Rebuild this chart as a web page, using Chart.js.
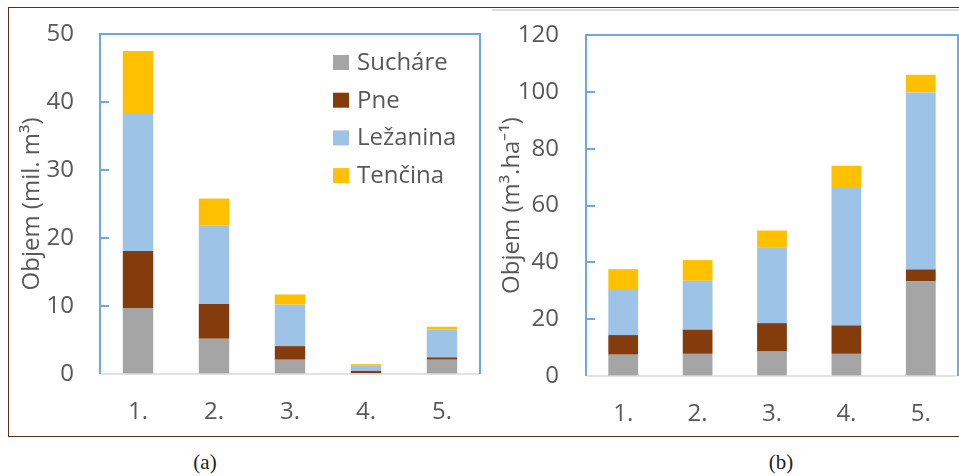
<!DOCTYPE html>
<html>
<head>
<meta charset="utf-8">
<script src="https://cdn.jsdelivr.net/npm/chart.js@4.4.1/dist/chart.umd.min.js"></script>
<style>
  html, body { margin: 0; padding: 0; background: #fff; overflow: hidden; }
  #wrap { position: relative; width: 959px; height: 476px; }
  .frame { position: absolute; left: 8px; top: 7px; width: 1000px; height: 428px; border: 1px solid #5c2c1c; }
  .topline { position: absolute; left: 492px; top: 9px; width: 470px; height: 2px; background: #dcdcdc; }
  .cap { position: absolute; top: 449px; width: 100px; text-align: center; font: 21px "Liberation Serif", serif; color: #222; line-height: 26px; }
  canvas { position: absolute; top: 0; }
</style>
</head>
<body>
<div id="wrap">
  <div class="frame"></div>
  <div class="topline"></div>
  <canvas id="chartA" width="482" height="440" style="left:0"></canvas>
  <canvas id="chartB" width="479" height="440" style="left:480px"></canvas>
  <div class="cap" style="left:155px">(a)</div>
  <div class="cap" style="left:731px">(b)</div>
</div>
<script>
// categories
const labels = ['1.', '2.', '3.', '4.', '5.'];
const seriesNames = ['Sucháre', 'Pne', 'Ležanina', 'Tenčina'];
const seriesColors = ['#A5A5A5', '#843C0C', '#9DC3E6', '#FFC000'];

// (a) volume, mil. m3
const sucharaA = [9.7, 5.2, 2.1, 0.1, 2.1];
const pneA = [8.4, 5.1, 2.0, 0.35, 0.35];
const lezaninaA = [20.3, 11.5, 6.1, 0.75, 4.1];
const tencinaA = [9.1, 4.0, 1.5, 0.25, 0.4];

// (b) volume per hectare, m3.ha-1
const sucharaB = [7.5, 7.8, 8.6, 7.8, 33.3];
const pneB = [6.9, 8.5, 10.0, 10.0, 4.2];
const lezaninaB = [16.2, 17.2, 26.5, 48.7, 62.3];
const tencinaB = [7.0, 7.3, 6.1, 7.5, 6.2];

Chart.defaults.font.family = "'Open Sans', sans-serif";
Chart.defaults.color = '#595959';

const FRAME_BLUE = '#6FA8DC';
const AXIS_GREY = '#D9D9D9';

// plot box: blue on top/left/right, grey base line, short ticks pointing inwards
const plotFrame = {
  id: 'plotFrame',
  afterDraw(chart) {
    const {ctx, chartArea: a} = chart;
    const y = chart.scales.y;
    ctx.save();
    ctx.lineWidth = 2;
    ctx.strokeStyle = FRAME_BLUE;
    ctx.beginPath();
    ctx.moveTo(a.left, a.bottom);
    ctx.lineTo(a.left, a.top);
    ctx.lineTo(a.right, a.top);
    ctx.lineTo(a.right, a.bottom);
    ctx.stroke();
    y.ticks.forEach(t => {
      if (t.value === y.min || t.value === y.max) return;
      const py = Math.round(y.getPixelForValue(t.value));
      ctx.beginPath();
      ctx.moveTo(a.left, py);
      ctx.lineTo(a.left + 9, py);
      ctx.stroke();
    });
    ctx.lineWidth = 1.5;
    ctx.strokeStyle = AXIS_GREY;
    ctx.beginPath();
    ctx.moveTo(a.left + 1, a.bottom);
    ctx.lineTo(a.right - 1, a.bottom);
    ctx.stroke();
    ctx.restore();
  }
};

// legend drawn inside the plot area (only chart a)
const innerLegend = {
  id: 'innerLegend',
  afterDraw(chart, args, opts) {
    if (!opts.show) return;
    const {ctx, chartArea: a} = chart;
    ctx.save();
    ctx.font = "24px 'Open Sans', sans-serif";
    ctx.textBaseline = 'middle';
    chart.data.datasets.forEach((ds, i) => {
      const cy = a.top + 29 + i * 37.7;
      const x = a.left + 233;
      ctx.fillStyle = ds.backgroundColor;
      ctx.fillRect(x, cy - 8, 16, 15);
      ctx.fillStyle = '#595959';
      ctx.fillText(ds.label, x + 24, cy);
    });
    ctx.restore();
  }
};

function makeDatasets(vals) {
  return vals.map((v, i) => ({
    label: seriesNames[i],
    data: v,
    backgroundColor: seriesColors[i],
    borderWidth: 0,
    categoryPercentage: 1,
    barPercentage: 0.4
  }));
}

function makeChart(id, vals, yMax, yStep, yTitle, o) {
  return new Chart(document.getElementById(id), {
    type: 'bar',
    data: { labels: labels, datasets: makeDatasets(vals) },
    options: {
      responsive: false,
      animation: false,
      devicePixelRatio: 1,
      layout: { padding: { left: 0, top: o.top, right: o.right, bottom: 0 } },
      plugins: {
        legend: { display: false },
        tooltip: { enabled: false },
        innerLegend: { show: o.legend }
      },
      scales: {
        x: {
          stacked: true,
          grid: { display: false, drawTicks: false },
          border: { display: false },
          ticks: { font: { size: 24 }, padding: 24 },
          afterFit: s => { s.height = o.xh; }
        },
        y: {
          stacked: true,
          min: 0,
          max: yMax,
          grid: { display: false, drawTicks: false },
          border: { display: false },
          ticks: { stepSize: yStep, font: { size: 24 }, padding: o.tickPad },
          title: { display: true, text: yTitle, font: { size: 24 }, padding: { top: 17.5, bottom: 0 } },
          // fixed axis width; tick padding shouldn't push the plot top down
          afterFit: s => { s.width = o.yw; s.paddingTop = 0; s.paddingBottom = 0; }
        }
      }
    },
    plugins: [plotFrame, innerLegend]
  });
}

makeChart('chartA', [sucharaA, pneA, lezaninaA, tencinaA], 50, 10, 'Objem (mil. m³)',
  { top: 34, right: 2, xh: 66, yw: 100, tickPad: 26, legend: true });
makeChart('chartB', [sucharaB, pneB, lezaninaB, tencinaB], 120, 20, 'Objem (m³.ha⁻¹)',
  { top: 35, right: 1, xh: 64, yw: 106, tickPad: 27, legend: false });
</script>
</body>
</html>
